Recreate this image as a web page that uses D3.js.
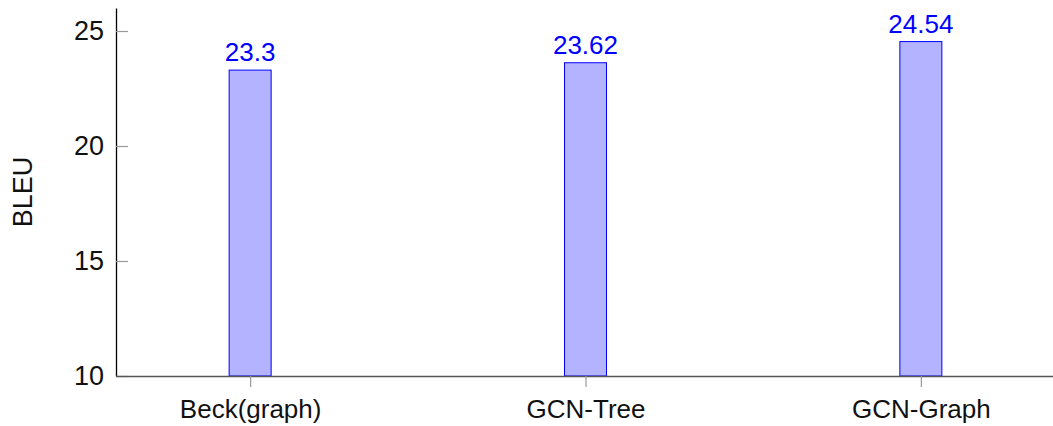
<!DOCTYPE html>
<html>
<head>
<meta charset="utf-8">
<script src="https://cdn.jsdelivr.net/npm/d3@7"></script>
<style>
  html, body { margin: 0; padding: 0; background: #fff; }
  svg { display: block; font-family: "Liberation Sans", Arial, sans-serif; }
</style>
</head>
<body>
<svg id="chart" width="1053" height="426"></svg>
<script>
const categories = ["Beck(graph)", "GCN-Tree", "GCN-Graph"];
const bleuValues = [23.3, 23.62, 24.54];
const barLabels = ["23.3", "23.62", "24.54"];
const yTicks = [10, 15, 20, 25];
const yLabel = "BLEU";

const W = 1053, H = 426;
const margin = { left: 116, top: 8, bottom: 50 };
const plotBottom = H - margin.bottom; // 376

const svg = d3.select("#chart");

const x = d3.scalePoint()
  .domain(categories)
  .range([margin.left, 1055])
  .padding(0.4);

const y = d3.scaleLinear()
  .domain([10, 26])
  .range([plotBottom, margin.top]);

const barWidth = 42;

// bars
svg.append("g")
  .selectAll("rect")
  .data(categories)
  .join("rect")
  .attr("x", d => x(d) - barWidth / 2)
  .attr("y", (d, i) => y(bleuValues[i]))
  .attr("width", barWidth)
  .attr("height", (d, i) => y(10) - y(bleuValues[i]))
  .attr("fill", "#b3b3ff")
  .attr("stroke", "#0000ff")
  .attr("stroke-width", 1);

// value labels
svg.append("g")
  .selectAll("text")
  .data(categories)
  .join("text")
  .attr("x", d => x(d))
  .attr("y", (d, i) => y(bleuValues[i]) - 9)
  .attr("text-anchor", "middle")
  .attr("fill", "#0000ff")
  .attr("font-size", 26)
  .text((d, i) => barLabels[i]);

// y axis
const yAxis = svg.append("g")
  .attr("transform", `translate(${margin.left},0)`)
  .call(d3.axisLeft(y).tickValues(yTicks).tickSizeInner(-12).tickSizeOuter(0).tickPadding(12));
yAxis.select(".domain").attr("stroke", "#000").attr("stroke-width", 1.3);
yAxis.selectAll(".tick line").attr("stroke", "#999").attr("stroke-width", 1.2);
yAxis.selectAll(".tick text").attr("font-size", 27).attr("fill", "#111")
  .attr("font-family", "Liberation Sans, Arial, sans-serif");

// x axis
const xAxis = svg.append("g")
  .attr("transform", `translate(0,${plotBottom})`)
  .call(d3.axisBottom(x).tickSizeInner(11).tickSizeOuter(0).tickPadding(13));
xAxis.select(".domain").attr("d", `M${margin.left},0.5H${W}`).attr("stroke", "#555").attr("stroke-width", 1.3);
xAxis.selectAll(".tick line").attr("stroke", "#999").attr("stroke-width", 1.2);
xAxis.selectAll(".tick text").attr("font-size", 26).attr("fill", "#111")
  .attr("font-family", "Liberation Sans, Arial, sans-serif");

// y label
svg.append("text")
  .attr("transform", `translate(32,${(y(10) + y(26)) / 2}) rotate(-90)`)
  .attr("text-anchor", "middle")
  .attr("font-size", 27)
  .attr("fill", "#111")
  .text(yLabel);
</script>
</body>
</html>
